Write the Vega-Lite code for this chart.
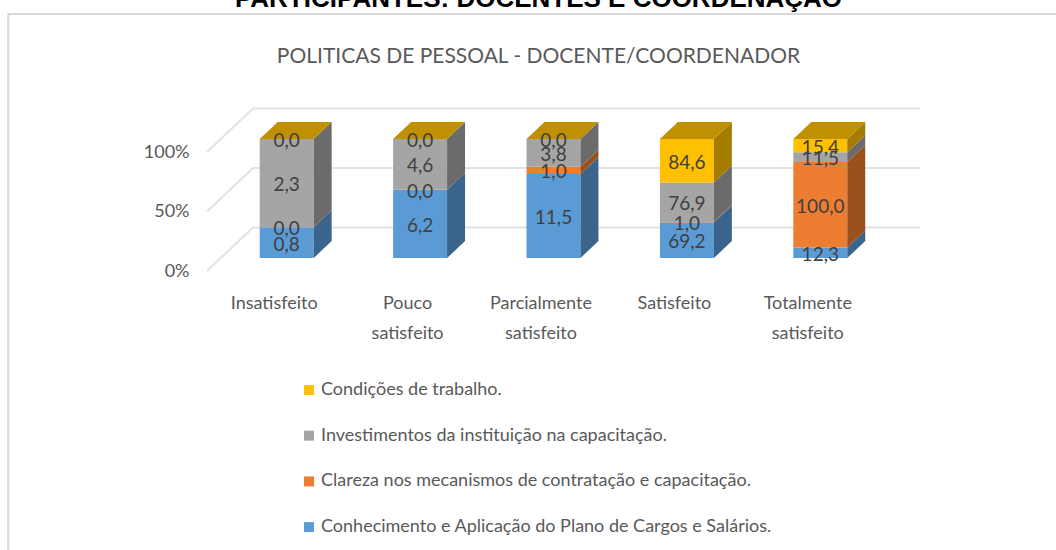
{
"$schema":"https://vega.github.io/schema/vega-lite/v6.json",
"width":667,"height":119,
"autosize":{"type":"none"},
"padding":{"left":207,"top":152,"right":182,"bottom":279},
"background":"white",
"config":{"view":{"stroke":null},"font":"Lato"},
"title":{"text":"PARTICIPANTES: DOCENTES E COORDENAÇÃO","subtitle":"POLITICAS DE PESSOAL - DOCENTE/COORDENADOR","anchor":"middle","dx":-2,"offset":-57,"font":"Liberation Sans","fontSize":26,"fontWeight":"bold","color":"#000000","subtitleFont":"Lato","subtitleFontSize":21,"subtitleColor":"#595959","subtitleFontWeight":"normal","subtitlePadding":34},
"data":{"values":[
{"categoria":"Insatisfeito","indice":0,"ordem":0,"serie":"Conhecimento e Aplicação do Plano de Cargos e Salários.","valor":0.8},
{"categoria":"Insatisfeito","indice":0,"ordem":1,"serie":"Clareza nos mecanismos de contratação e capacitação.","valor":0.0},
{"categoria":"Insatisfeito","indice":0,"ordem":2,"serie":"Investimentos da instituição na capacitação.","valor":2.3},
{"categoria":"Insatisfeito","indice":0,"ordem":3,"serie":"Condições de trabalho.","valor":0.0},
{"categoria":"Pouco satisfeito","indice":1,"ordem":0,"serie":"Conhecimento e Aplicação do Plano de Cargos e Salários.","valor":6.2},
{"categoria":"Pouco satisfeito","indice":1,"ordem":1,"serie":"Clareza nos mecanismos de contratação e capacitação.","valor":0.0},
{"categoria":"Pouco satisfeito","indice":1,"ordem":2,"serie":"Investimentos da instituição na capacitação.","valor":4.6},
{"categoria":"Pouco satisfeito","indice":1,"ordem":3,"serie":"Condições de trabalho.","valor":0.0},
{"categoria":"Parcialmente satisfeito","indice":2,"ordem":0,"serie":"Conhecimento e Aplicação do Plano de Cargos e Salários.","valor":11.5},
{"categoria":"Parcialmente satisfeito","indice":2,"ordem":1,"serie":"Clareza nos mecanismos de contratação e capacitação.","valor":1.0},
{"categoria":"Parcialmente satisfeito","indice":2,"ordem":2,"serie":"Investimentos da instituição na capacitação.","valor":3.8},
{"categoria":"Parcialmente satisfeito","indice":2,"ordem":3,"serie":"Condições de trabalho.","valor":0.0},
{"categoria":"Satisfeito","indice":3,"ordem":0,"serie":"Conhecimento e Aplicação do Plano de Cargos e Salários.","valor":69.2},
{"categoria":"Satisfeito","indice":3,"ordem":1,"serie":"Clareza nos mecanismos de contratação e capacitação.","valor":1.0},
{"categoria":"Satisfeito","indice":3,"ordem":2,"serie":"Investimentos da instituição na capacitação.","valor":76.9},
{"categoria":"Satisfeito","indice":3,"ordem":3,"serie":"Condições de trabalho.","valor":84.6},
{"categoria":"Totalmente satisfeito","indice":4,"ordem":0,"serie":"Conhecimento e Aplicação do Plano de Cargos e Salários.","valor":12.3},
{"categoria":"Totalmente satisfeito","indice":4,"ordem":1,"serie":"Clareza nos mecanismos de contratação e capacitação.","valor":100.0},
{"categoria":"Totalmente satisfeito","indice":4,"ordem":2,"serie":"Investimentos da instituição na capacitação.","valor":11.5},
{"categoria":"Totalmente satisfeito","indice":4,"ordem":3,"serie":"Condições de trabalho.","valor":15.4}
]},
"transform":[
{"stack":"valor","groupby":["categoria"],"sort":[{"field":"ordem","order":"ascending"}],"offset":"normalize","as":["y0","y1"]}
],
"encoding":{
"x":{"field":"xv","type":"quantitative","title":null,"scale":{"domain":[-0.5,4.5],"nice":false,"zero":false},
"axis":{"values":[0,1,2,3,4],"labelExpr":"split(['Insatisfeito','Pouco|satisfeito','Parcialmente|satisfeito','Satisfeito','Totalmente|satisfeito'][datum.value],'|')","domain":false,"ticks":false,"grid":false,"labelFontSize":18,"labelColor":"#595959","labelPadding":23,"labelLineHeight":30,"labelBaseline":"top","labelOverlap":false,"labelFlush":false,"labelBound":false,"labelFont":"Lato"}},
"y":{"field":"yv","type":"quantitative","title":null,"scale":{"domain":[0,1],"nice":false,"zero":false},
"axis":{"values":[0,0.5,1],"format":".0%","domain":false,"ticks":false,"grid":false,"labelFontSize":18,"labelColor":"#595959","labelPadding":18,"labelOverlap":false,"labelFlush":false,"labelBound":false,"labelFont":"Lato"}}
},
"resolve":{"scale":{"color":"independent"}},
"layer":[
{"data":{"values":[{"canto":0},{"canto":1},{"canto":2}]},
 "transform":[
  {"calculate":"[-1.99,-1.99,5.96][datum.canto]","as":"xv"},
  {"calculate":"[-2.4,2.16,2.16][datum.canto]","as":"yv"}],
 "mark":{"type":"line","color":"#D9D9D9","strokeWidth":2,"clip":false,"interpolate":"linear"}},
{"data":{"values":[{"marca":0},{"marca":0.5},{"marca":1}]},
 "transform":[
  {"calculate":"[0,1,2]","as":"ponto"},{"flatten":["ponto"]},
  {"calculate":"[-0.5,-0.1554,4.8446][datum.ponto]","as":"xv"},
  {"calculate":"datum.marca+(datum.ponto>0?0.3655:0)","as":"yv"}],
 "mark":{"type":"line","color":"#E2E2E2","strokeWidth":2,"interpolate":"linear"},
 "encoding":{"detail":{"field":"marca"}}},
{"transform":[
  {"calculate":"datum.indice+0.0974-0.2022","as":"xv"},
  {"calculate":"datum.indice+0.0974+0.2022","as":"xv2"},
  {"calculate":"datum.y0+0.109","as":"yv"},
  {"calculate":"datum.y1+0.109","as":"yv2"}],
 "mark":{"type":"rect"},
 "encoding":{
  "x2":{"field":"xv2"},"y2":{"field":"yv2"},
  "color":{"field":"serie","type":"nominal","scale":{"domain":["Conhecimento e Aplicação do Plano de Cargos e Salários.","Clareza nos mecanismos de contratação e capacitação.","Investimentos da instituição na capacitação.","Condições de trabalho."],"range":["#5B9BD5","#ED7D31","#A5A5A5","#FFC000"]},
   "legend":{"values":["Condições de trabalho.","Investimentos da instituição na capacitação.","Clareza nos mecanismos de contratação e capacitação.","Conhecimento e Aplicação do Plano de Cargos e Salários."],"orient":"none","legendX":93,"legendY":229,"title":null,"symbolType":"square","symbolSize":100,"symbolStrokeWidth":0,"labelFontSize":18,"labelColor":"#595959","labelFont":"Lato","labelOffset":3,"rowPadding":27.7,"padding":0,"labelLimit":600}}}},
{"transform":[
  {"calculate":"[0,1]","as":"prof"},{"flatten":["prof"]},
  {"calculate":"datum.indice+0.0974+0.2022+datum.prof*0.1348","as":"xv"},
  {"calculate":"datum.y0+0.109+datum.prof*0.1429","as":"yv"},
  {"calculate":"datum.y1+0.109+datum.prof*0.1429","as":"yv2"}],
 "mark":{"type":"area","interpolate":"linear","line":false},
 "encoding":{
  "y2":{"field":"yv2"},
  "detail":{"field":"categoria"},
  "color":{"field":"serie","type":"nominal","legend":null,"scale":{"domain":["Conhecimento e Aplicação do Plano de Cargos e Salários.","Clareza nos mecanismos de contratação e capacitação.","Investimentos da instituição na capacitação.","Condições de trabalho."],"range":["#3A648B","#9A511E","#6B6B6B","#A67C00"]}}}},
{"transform":[
  {"filter":"datum.ordem==3"},
  {"calculate":"[0,1]","as":"prof"},{"flatten":["prof"]},
  {"calculate":"datum.indice+0.0974-0.2022+datum.prof*0.1348","as":"xv"},
  {"calculate":"datum.indice+0.0974+0.2022+datum.prof*0.1348","as":"xv2"},
  {"calculate":"1.109+datum.prof*0.1429","as":"yv"}],
 "mark":{"type":"area","orient":"horizontal","interpolate":"linear","color":"#BF9000"},
 "encoding":{"x2":{"field":"xv2"},"detail":{"field":"categoria"}}},
{"transform":[
  {"calculate":"datum.indice+0.0974","as":"xv"},
  {"calculate":"(datum.y0+datum.y1)/2+0.109","as":"yv"},
  {"calculate":"replace(format(datum.valor,'.1f'),'.',',')","as":"rotulo"}],
 "mark":{"type":"text","fontSize":19,"color":"#404040","baseline":"middle","dy":2,"font":"Lato"},
 "encoding":{"text":{"field":"rotulo"}}}
]
}
